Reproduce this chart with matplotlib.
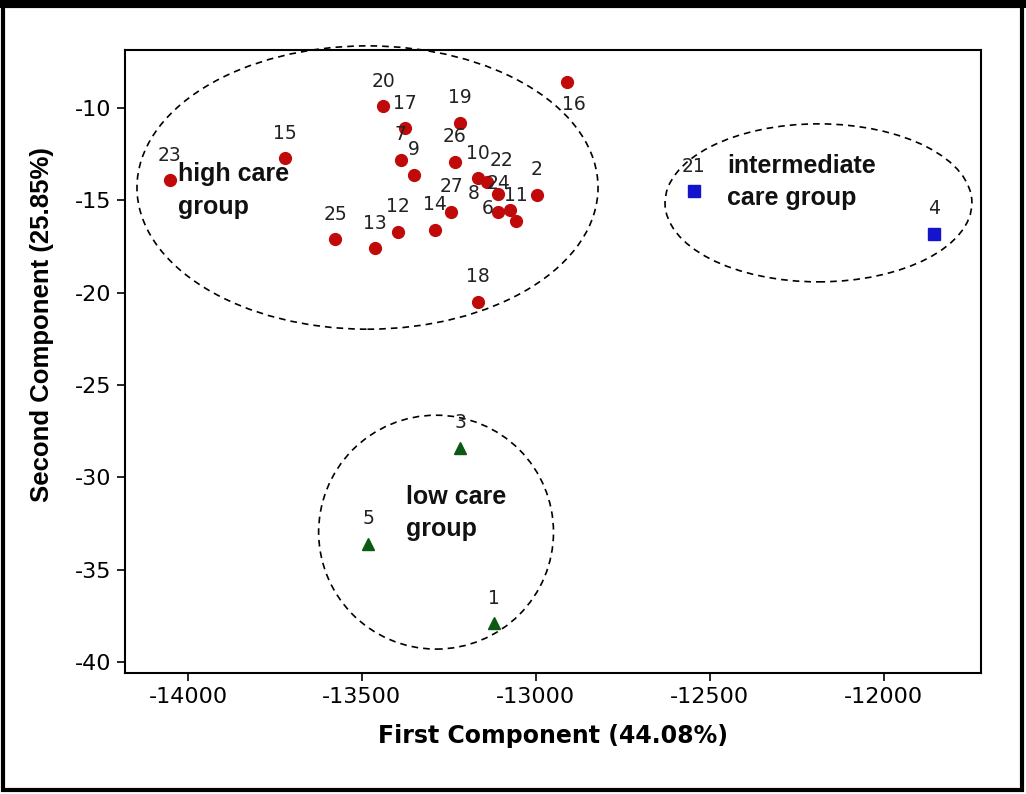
import matplotlib
matplotlib.use('Agg')
import matplotlib.pyplot as plt
from matplotlib.patches import Ellipse, Rectangle

plt.rcParams['axes.unicode_minus'] = False

# high care group (red circles)
high_ids = ['23', '15', '25', '13', '12', '14', '27', '18', '16', '20', '17', '7', '9',
            '19', '26', '10', '8', '22', '24', '6', '11', '2']
high_x = [-14052, -13721, -13576, -13463, -13397, -13290, -13244, -13167, -12912, -13439,
          -13376, -13388, -13351, -13218, -13233, -13166, -13140, -13108, -13108, -13075,
          -13057, -12998]
high_y = [-13.9, -12.7, -17.1, -17.6, -16.7, -16.6, -15.6, -20.5, -8.6, -9.9,
          -11.1, -12.8, -13.6, -10.8, -12.9, -13.8, -14.0, -14.65, -15.6, -15.5,
          -16.1, -14.7]

# intermediate care group (blue squares)
mid_ids = ['21', '4']
mid_x = [-12546, -11856]
mid_y = [-14.5, -16.8]

# low care group (green triangles)
low_ids = ['3', '5', '1']
low_x = [-13218, -13482, -13120]
low_y = [-28.4, -33.6, -37.9]

# label offsets (points) that differ from the default "above the point"
label_off = {'16': (5, -16), '8': (-10, -8), '22': (2, 24), '6': (-16, 1), '24': (0, 20)}

fig = plt.figure(figsize=(10.26, 7.94), dpi=100)
ax = fig.add_axes([0.1218, 0.1524, 0.8343, 0.7846])

ax.plot(high_x, high_y, 'o', color='#C00A0A', ms=8.5, zorder=3)
ax.plot(mid_x, mid_y, 's', color='#1414CC', ms=8, zorder=3)
ax.plot(low_x, low_y, '^', color='#0B5A14', ms=9, zorder=3)

def labels(ids, xs, ys):
    for i, x, y in zip(ids, xs, ys):
        off = label_off.get(i, (0, 18))
        ax.annotate(i, (x, y), xytext=off, textcoords='offset points',
                    ha='center', va='center', fontsize=13.5, color='#222222',
                    family='DejaVu Sans', zorder=4)

labels(high_ids, high_x, high_y)
labels(mid_ids, mid_x, mid_y)
labels(low_ids, low_x, low_y)

# dashed group ellipses
dash = (0, (4, 3))
for c, w, h in [((-13484, -14.3), 1325, 15.35),
                ((-12188, -15.13), 882, 8.56),
                ((-13287, -32.97), 675, 12.67)]:
    ax.add_patch(Ellipse(c, w, h, fill=False, ec='black', lw=1.2, ls=dash, clip_on=False))

txt = dict(fontsize=18, fontweight='bold', family='Liberation Sans', ha='left', va='center',
           linespacing=1.45, color='#111111')
ax.text(-14029, -14.47, 'high care\ngroup', **txt)
ax.text(-12451, -14.0, 'intermediate\ncare group', **txt)
ax.text(-13374, -31.93, 'low care\ngroup', **txt)

ax.set_xlim(-14181, -11721)
ax.set_ylim(-40.6, -6.85)
ax.set_xticks([-14000, -13500, -13000, -12500, -12000])
ax.set_yticks([-10, -15, -20, -25, -30, -35, -40])
ax.tick_params(direction='out', length=6, width=1.2, labelsize=16, pad=4)
for s in ax.spines.values():
    s.set_linewidth(1.5)

ax.set_xlabel('First Component (44.08%)', fontsize=17, fontweight='bold', labelpad=12)
ax.set_ylabel('Second Component (25.85%)', fontsize=18.5, fontweight='bold',
              family='Liberation Sans')
ax.yaxis.set_label_coords(-0.083, 0.56)

# black frame round the whole picture
fig.patches.append(Rectangle((0.003, 0.005), 0.993, 0.988, transform=fig.transFigure,
                             fill=False, ec='black', lw=3))
fig.patches.append(Rectangle((0, 0.99), 1, 0.01, transform=fig.transFigure,
                             fc='black', ec='none'))

plt.savefig('out.png', dpi=100)
